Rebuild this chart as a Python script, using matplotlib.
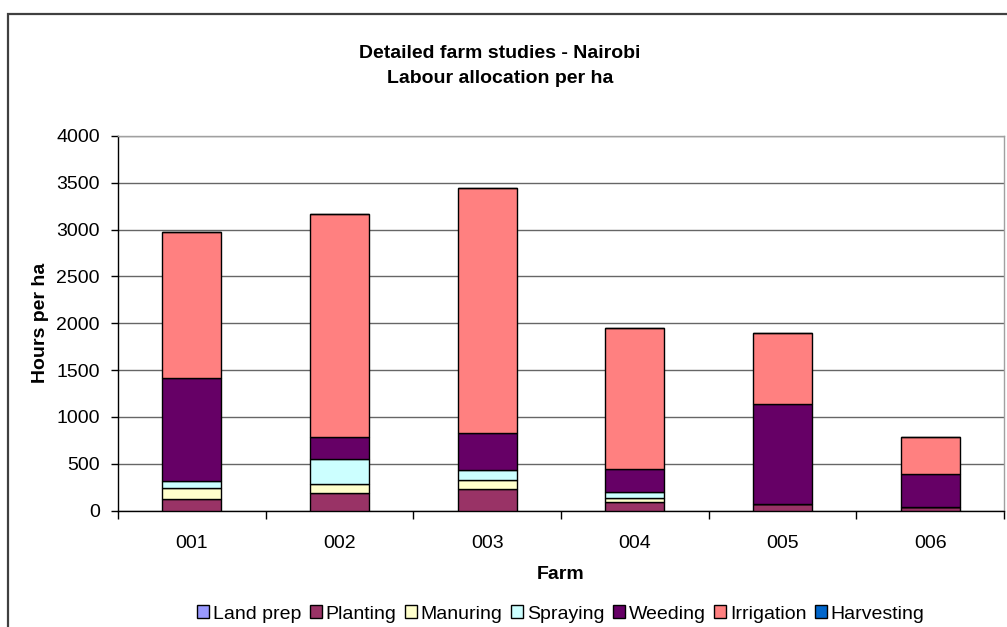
import matplotlib
matplotlib.use("Agg")
import matplotlib.pyplot as plt
from matplotlib.patches import Rectangle
import numpy as np

farms = ["001", "002", "003", "004", "005", "006"]
series_names = ["Land prep", "Planting", "Manuring", "Spraying", "Weeding", "Irrigation", "Harvesting"]
land_prep = [0, 0, 0, 0, 0, 0]
planting = [128, 190, 231, 88, 71, 39]
manuring = [113, 97, 96, 43, 0, 0]
spraying = [75, 266, 106, 71, 0, 0]
weeding = [1094, 237, 394, 241, 1070, 355]
irrigation = [1560, 2375, 2613, 1507, 759, 396]
harvesting = [0, 0, 0, 0, 0, 0]
colors = ["#9999FF", "#993366", "#FFFFCC", "#CCFFFF", "#660066", "#FF8080", "#0066CC"]
yticks = [0, 500, 1000, 1500, 2000, 2500, 3000, 3500, 4000]

plt.rcParams['font.family'] = ['Liberation Sans', 'DejaVu Sans']
FS = 14

W, H = 1007, 627
fig = plt.figure(figsize=(W / 100, H / 100), dpi=100)
fig.patch.set_facecolor("white")

# chart area border (extends beyond right/bottom)
fig.add_artist(Rectangle((8 / W, -0.1), 1.2, (H - 14) / H + 0.1,
                         transform=fig.transFigure, fill=False,
                         edgecolor="#404040", linewidth=1.6, clip_on=False))

left, right, top, bottom = 118, 1004, 136, 510.5
ax = fig.add_axes([left / W, (H - bottom) / H, (right - left) / W, (bottom - top) / H])

data = [land_prep, planting, manuring, spraying, weeding, irrigation, harvesting]
x = np.arange(len(farms))
base = np.zeros(len(farms))
handles = []
for name, vals, c in zip(series_names, data, colors):
    vals = np.array(vals, dtype=float)
    b = ax.bar(x, vals, width=0.4, bottom=base, color=c, edgecolor="black",
               linewidth=1.0, label=name, zorder=3)
    handles.append(b)
    base = base + vals

ax.set_xlim(-0.5, len(farms) - 0.5)
ax.set_ylim(0, 4000)
ax.set_yticks(yticks)
ax.set_yticklabels([str(v) for v in yticks], fontsize=FS)
ax.yaxis.grid(True, color="#666666", linewidth=1.0, zorder=0)
ax.set_axisbelow(True)

ax.set_xticks(np.arange(-0.5, len(farms), 1.0))
ax.set_xticklabels([])
ax.set_xticks(x, minor=True)
ax.set_xticklabels(farms, minor=True, fontsize=FS)
ax.tick_params(axis="x", which="major", length=6, width=1, direction="out")
ax.tick_params(axis="x", which="minor", length=0, pad=17.5)
ax.tick_params(axis="y", length=5, width=1, direction="out", pad=8)

for s in ["top", "right"]:
    ax.spines[s].set_color("#a0a0a0")
    ax.spines[s].set_linewidth(1.0)
for s in ["left", "bottom"]:
    ax.spines[s].set_color("black")
    ax.spines[s].set_linewidth(1.0)

ax.set_ylabel("Hours per ha", fontsize=FS, fontweight="bold", labelpad=5)
ax.set_xlabel("Farm", fontsize=FS, fontweight="bold", labelpad=10)

fig.text(500 / W, 1 - 58 / H, "Detailed farm studies - Nairobi", ha="center", va="baseline",
         fontsize=FS, fontweight="bold")
fig.text(500 / W, 1 - 83 / H, "Labour allocation per ha", ha="center", va="baseline",
         fontsize=FS, fontweight="bold")

fig.legend(handles=handles, labels=series_names, loc="center", bbox_to_anchor=(561 / W, 1 - 614 / H),
           ncol=7, frameon=False, fontsize=FS, handlelength=0.6, handleheight=0.6,
           handletextpad=0.2, columnspacing=0.45, borderaxespad=0)

fig.savefig("out.png", dpi=100)
